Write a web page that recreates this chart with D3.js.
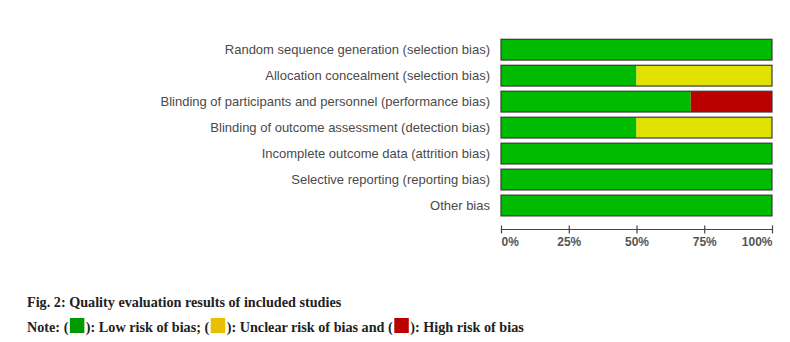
<!DOCTYPE html>
<html>
<head>
<meta charset="utf-8">
<script src="https://cdn.jsdelivr.net/npm/d3@7/dist/d3.min.js"></script>
<style>
  html, body { margin: 0; padding: 0; background: #fff; }
  svg { display: block; }
</style>
</head>
<body>
<svg id="chart" width="790" height="342"></svg>
<script>
// Risk-of-bias domains (top to bottom)
const domains = [
  "Random sequence generation (selection bias)",
  "Allocation concealment (selection bias)",
  "Blinding of participants and personnel (performance bias)",
  "Blinding of outcome assessment (detection bias)",
  "Incomplete outcome data (attrition bias)",
  "Selective reporting (reporting bias)",
  "Other bias"
];
// Share of studies per judgement, in percent
const lowRisk     = [100, 50, 70, 50, 100, 100, 100];
const unclearRisk = [0, 50, 0, 50, 0, 0, 0];
const highRisk    = [0, 0, 30, 0, 0, 0, 0];
const tickValues  = [0, 25, 50, 75, 100];
const tickLabels  = ["0%", "25%", "50%", "75%", "100%"];

const judgements = ["low", "unclear", "high"];
const fill = { low: "#00bb00", unclear: "#e2e200", high: "#bb0000" };

const svg = d3.select("#chart");

const x = d3.scaleLinear().domain([0, 100]).range([501, 772]);
const y = d3.scaleBand().domain(domains).range([36.7, 218.5]).paddingInner(0.2).paddingOuter(0.1);

const rows = domains.map((d, i) => ({ domain: d, low: lowRisk[i], unclear: unclearRisk[i], high: highRisk[i] }));
const stacked = d3.stack().keys(judgements)(rows);

// Stacked segments
const g = svg.append("g");
stacked.forEach(layer => {
  g.selectAll(null)
    .data(layer.filter(s => s[1] - s[0] > 0))
    .join("rect")
    .attr("x", s => x(s[0]))
    .attr("y", s => y(s.data.domain))
    .attr("width", s => x(s[1]) - x(s[0]))
    .attr("height", y.bandwidth())
    .attr("fill", fill[layer.key]);
});
// Bar outlines
g.selectAll(null)
  .data(domains)
  .join("rect")
  .attr("x", x(0))
  .attr("y", d => y(d))
  .attr("width", x(100) - x(0))
  .attr("height", y.bandwidth())
  .attr("fill", "none")
  .attr("stroke", "#3a3a3a")
  .attr("stroke-width", 1.2);

// Domain labels
svg.append("g")
  .selectAll("text")
  .data(domains)
  .join("text")
  .attr("x", 490)
  .attr("y", d => y(d) + y.bandwidth() / 2)
  .attr("dy", "0.36em")
  .attr("text-anchor", "end")
  .attr("font-family", "Liberation Sans, Arial, sans-serif")
  .attr("font-size", 13)
  .attr("fill", "#4a4a4a")
  .text(d => d);

// Percentage axis
const axisY = 229.5;
const axis = d3.axisBottom(x)
  .tickValues(tickValues)
  .tickFormat((d, i) => tickLabels[i])
  .tickSize(4)
  .tickSizeOuter(0);
const ax = svg.append("g").attr("transform", `translate(0,${axisY})`).call(axis);
ax.select(".domain").attr("stroke", "#444").attr("stroke-width", 1.2).attr("d", `M${x(0)},0H${x(100)}`);
ax.selectAll(".tick line").attr("stroke", "#444").attr("stroke-width", 1.2).attr("y1", -4).attr("y2", 4);
ax.selectAll(".tick text")
  .attr("y", 8)
  .attr("font-family", "Liberation Sans, Arial, sans-serif")
  .attr("font-size", 12)
  .attr("font-weight", "bold")
  .attr("fill", "#555")
  .attr("text-anchor", (d, i) => i === 0 ? "start" : (i === tickValues.length - 1 ? "end" : "middle"));

// Caption
const serif = "Liberation Serif, 'Times New Roman', serif";
svg.append("text")
  .attr("x", 27).attr("y", 306.5)
  .attr("font-family", serif).attr("font-size", 14.2).attr("font-weight", "bold")
  .attr("fill", "#222")
  .text("Fig. 2: Quality evaluation results of included studies");

// Note line with inline colour keys
const noteParts = [
  { text: "Note: (" },
  { key: "#009900" },
  { text: "): Low risk of bias; (" },
  { key: "#e8c000" },
  { text: "): Unclear risk of bias and (" },
  { key: "#bb0000" },
  { text: "): High risk of bias" }
];
let cx = 27;
const noteY = 331.5;
noteParts.forEach(p => {
  if (p.text) {
    const t = svg.append("text")
      .attr("x", cx).attr("y", noteY)
      .attr("font-family", serif).attr("font-size", 14.2).attr("font-weight", "bold")
      .attr("fill", "#222")
      .text(p.text);
    cx += t.node().getComputedTextLength();
  } else {
    svg.append("rect")
      .attr("x", cx + 1.5).attr("y", noteY - 13.5)
      .attr("width", 14.5).attr("height", 15)
      .attr("fill", p.key);
    cx += 17.5;
  }
});
</script>
</body>
</html>
